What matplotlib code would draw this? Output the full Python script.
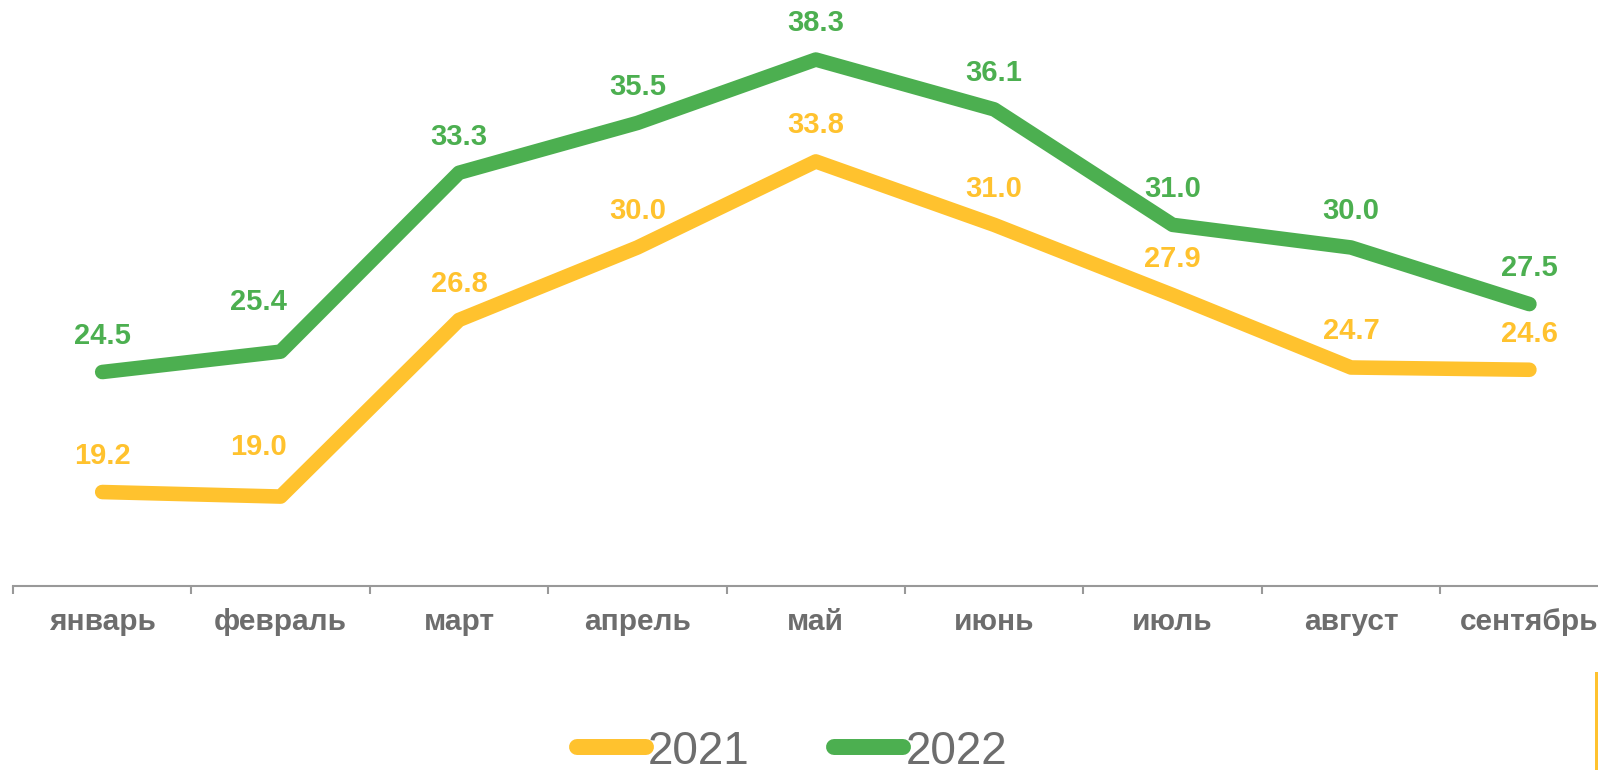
import matplotlib.pyplot as plt
from matplotlib.lines import Line2D
from matplotlib.patches import Rectangle

plt.rcParams['font.family'] = ['Liberation Sans', 'DejaVu Sans']

months = ["январь", "февраль", "март", "апрель", "май", "июнь", "июль", "август", "сентябрь"]
y2021 = [19.2, 19.0, 26.8, 30.0, 33.8, 31.0, 27.9, 24.7, 24.6]
y2022 = [24.5, 25.4, 33.3, 35.5, 38.3, 36.1, 31.0, 30.0, 27.5]

yellow = "#FFC22E"
green = "#4CAF50"
grey = "#6d6d6d"

fig = plt.figure(figsize=(15.98, 7.70), dpi=100)
ax = fig.add_axes([13 / 1598, 184 / 770, 9 * 178.4 / 1598, 586 / 770])

x = list(range(len(months)))
ax.plot(x, y2021, color=yellow, lw=10.5, solid_capstyle="round", solid_joinstyle="round")
ax.plot(x, y2022, color=green, lw=10.5, solid_capstyle="round", solid_joinstyle="round")

# labels above the points, February ones sit higher and to the left
for i in x:
    dx, dy = (-16, 36) if i == 1 else (0, 26)
    ax.annotate(f"{y2021[i]:.1f}", (i, y2021[i]), xytext=(dx, dy), textcoords="offset points",
                ha="center", va="center", fontsize=21, fontweight="bold", color=yellow)
    ax.annotate(f"{y2022[i]:.1f}", (i, y2022[i]), xytext=(dx, dy), textcoords="offset points",
                ha="center", va="center", fontsize=21, fontweight="bold", color=green)

ax.set_xlim(-0.5, len(months) - 0.5)
ax.set_ylim(15.05, 40.93)
ax.set_xticks([i - 0.5 for i in range(len(months) + 1)])
ax.set_xticklabels([])
ax.set_xticks(x, minor=True)
ax.set_xticklabels(months, minor=True, fontsize=21.5, fontweight="bold", color=grey)
ax.tick_params(axis="x", which="major", length=6, width=1.5, color="#999999")
ax.tick_params(axis="x", which="minor", length=0, pad=16)
ax.set_yticks([])
for s in ["top", "right", "left"]:
    ax.spines[s].set_visible(False)
ax.spines["bottom"].set_color("#999999")
ax.spines["bottom"].set_linewidth(1.5)
ax.patch.set_visible(False)

handles = [Line2D([], [], color=yellow, lw=11.5, solid_capstyle="round"),
           Line2D([], [], color=green, lw=11.5, solid_capstyle="round")]
leg = fig.legend(handles, ["2021", "2022"], loc="center", bbox_to_anchor=(792 / 1598, 0.024),
                 ncol=2, frameon=False, fontsize=33, handlelength=1.5, handletextpad=0.05,
                 columnspacing=1.85, labelcolor=grey)

fig.add_artist(Rectangle((1595 / 1598, 0), 3 / 1598, 98 / 770, transform=fig.transFigure,
                         color=yellow, lw=0))

fig.savefig("out.png", dpi=100)
